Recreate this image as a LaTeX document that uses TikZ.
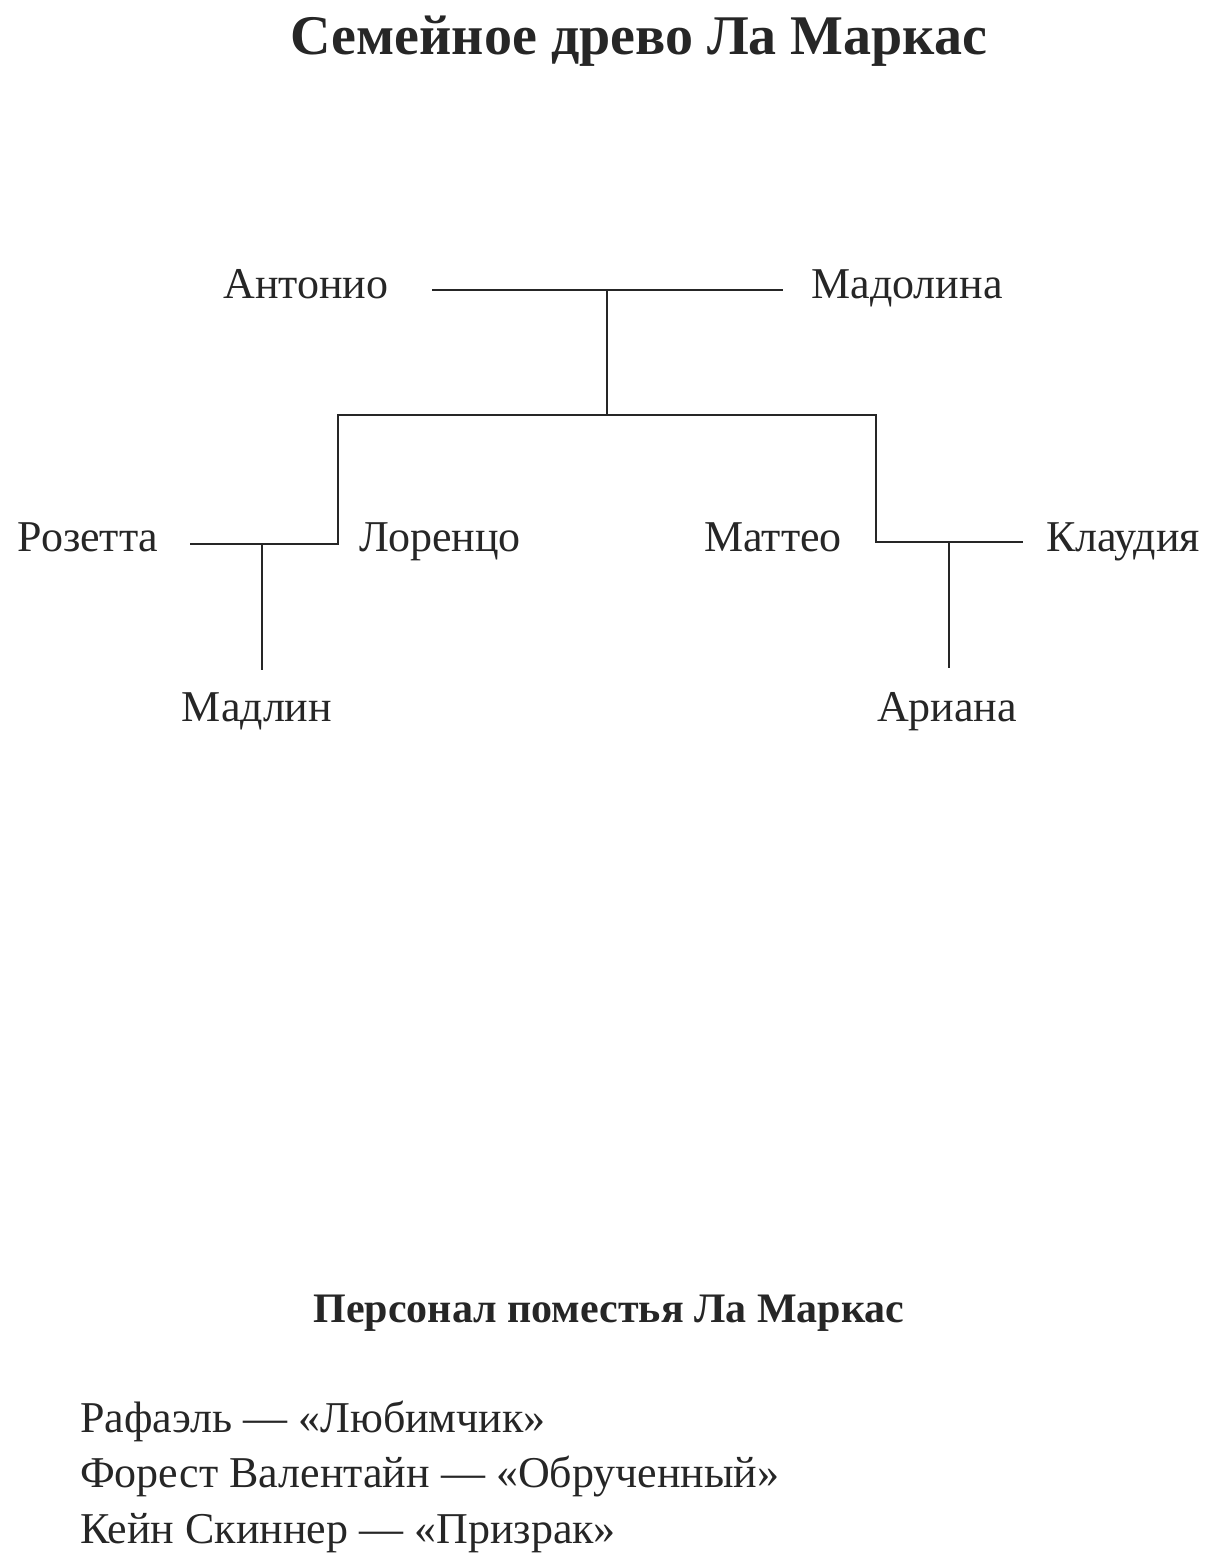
\documentclass[tikz,border=0pt]{standalone}
\usepackage{fontspec}
\setmainfont{Liberation Serif}
\begin{document}
\begin{tikzpicture}[x=1pt,y=-1pt,
  person/.style={anchor=base,inner sep=0pt,font=\fontsize{44}{50}\selectfont,text=black!85},
  ln/.style={line width=1.6pt,black!85}]
\useasboundingbox (0,0) rectangle (1220,1565);
\node[person,font=\bfseries\fontsize{56}{60}\selectfont] (title) at (639,55) {Семейное древо Ла Маркас};
\node[person] (ant) at (306,298) {Антонио};
\node[person] (mad) at (907,298) {Мадолина};
\node[person] (roz) at (88,551) {Розетта};
\node[person] (lor) at (440,551) {Лоренцо};
\node[person] (mat) at (773,551) {Маттео};
\node[person] (kla) at (1123,551) {Клаудия};
\node[person] (mdl) at (257,721) {Мадлин};
\node[person] (ari) at (947,721) {Ариана};
\coordinate (a1) at (432,290); \coordinate (a2) at (783,290);
\coordinate (a3) at (607,290); \coordinate (a4) at (607,415);
\coordinate (h1) at (338,415); \coordinate (h2) at (876,415);
\coordinate (l1) at (338,544); \coordinate (l2) at (190,544);
\coordinate (l3) at (262,544); \coordinate (l4) at (262,670);
\coordinate (r1) at (876,542); \coordinate (r2) at (1023,542);
\coordinate (r3) at (949,542); \coordinate (r4) at (949,668);
\draw[ln] (a1) -- (a2); \draw[ln] (a3) -- (a4);
\draw[ln] (l2) -- (l1) -- (h1) -- (h2) -- (r1) -- (r2);
\draw[ln] (l3) -- (l4); \draw[ln] (r3) -- (r4);
\node[person,font=\bfseries\fontsize{42}{48}\selectfont] (sub) at (609,1322) {Персонал поместья Ла Маркас};
\node[person,anchor=base west] (p1) at (80,1432) {Рафаэль — «Любимчик»};
\node[person,anchor=base west] (p2) at (80,1487) {Форест Валентайн — «Обрученный»};
\node[person,anchor=base west] (p3) at (80,1543) {Кейн Скиннер — «Призрак»};
\end{tikzpicture}
\end{document}
